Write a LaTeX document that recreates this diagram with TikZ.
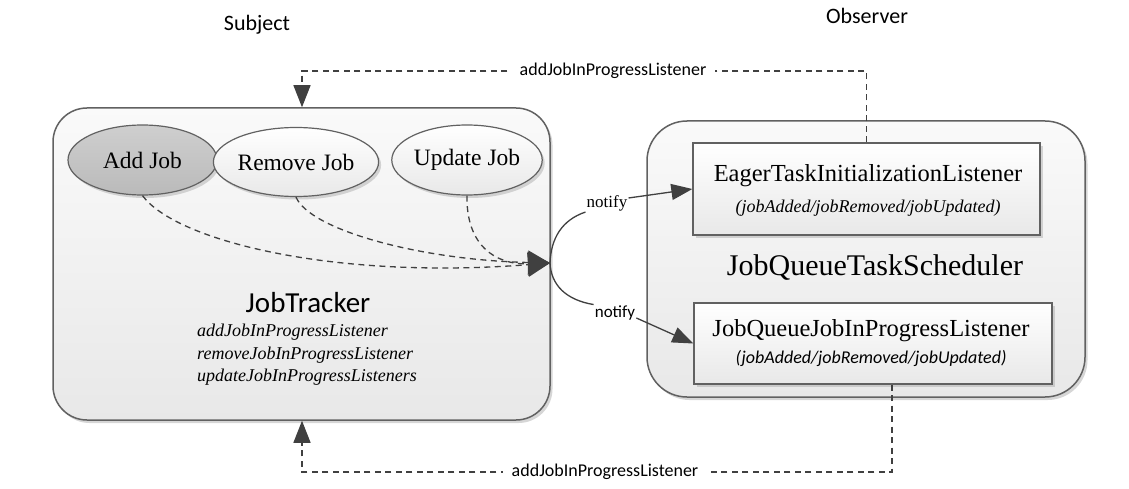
\documentclass[tikz,border=0pt]{standalone}
\usepackage{fontspec}
\setmainfont{Liberation Serif}
\newfontfamily\calfont{Carlito}
\usetikzlibrary{arrows.meta,shadows,shapes.geometric}
\begin{document}
\begin{tikzpicture}[x=1pt,y=-1pt,
  shad/.style={drop shadow={shadow xshift=2.5pt,shadow yshift=-3pt,fill=black!35,opacity=.45}},
  bigbox/.style={draw=black!62,line width=1.5pt,rounded corners=#1,top color=black!2,bottom color=black!9,shad,inner sep=0pt},
  ellip/.style={ellipse,draw=black!62,line width=1.2pt,inner sep=0pt,minimum width=149pt,minimum height=70pt,
     font=\fontsize{23.5}{28}\selectfont,top color=white,bottom color=black!9,shad},
  listbox/.style={draw=black!62,line width=1.3pt,top color=white,bottom color=black!9,shad,inner sep=0pt},
  conn/.style={draw=black!75,line width=1.3pt},
  dconn/.style={conn,dash pattern=on 6pt off 4.5pt},
  bigtip/.style={-{Triangle[length=22pt,width=24pt]}},
  midtip/.style={-{Triangle[length=21pt,width=16pt]}},
  boxtip/.style={-{Triangle[length=22pt,width=17pt]}},
  lbl/.style={fill=white,inner xsep=9pt,inner ysep=2pt,font=\calfont\fontsize{18}{21}\selectfont},
  ttl/.style={font=\fontsize{24.5}{28}\selectfont,inner sep=0pt},
  sub/.style={font=\itshape\fontsize{18}{21}\selectfont,inner sep=0pt}
]
\useasboundingbox (0,0) rectangle (1129,489);
\fill[white] (0,0) rectangle (1129,489);

% headers
\node[font=\calfont\fontsize{22}{26}\selectfont] (subj) at (257,25) {Subject};
\node[font=\calfont\fontsize{22}{26}\selectfont] (obs) at (867,16) {Observer};

% containers
\node[bigbox=34,minimum width=497pt,minimum height=312pt] (tracker) at (301.5,264) {};
\node[bigbox=40,minimum width=438pt,minimum height=276pt] (sched) at (866,259) {};

% ellipses
\node[ellip,top color=black!19,bottom color=black!27] (add) at (142.5,160) {Add Job};
\node[ellip,minimum width=148pt,minimum height=69pt] (rem) at (296,162) {Remove Job};
\node[ellip] (upd) at (467,160) {Update Job};

% JobTracker texts
\node[font=\calfont\fontsize{29}{34}\selectfont,inner sep=0pt] (jt) at (308,303) {JobTracker};
\node[anchor=west,align=left,inner sep=0pt,font=\itshape\fontsize{18}{22.5}\selectfont] (methods) at (197,355)
  {addJobInProgressListener\\removeJobInProgressListener\\updateJobInProgressListeners};

% listener boxes
\node[listbox,minimum width=347pt,minimum height=92pt] (eager) at (866.5,189) {};
\node[ttl] (eagert) at (868,176) {EagerTaskInitializationListener};
\node[sub] (eagers) at (868,208) {(jobAdded/jobRemoved/jobUpdated)};

\node[font=\fontsize{30}{34}\selectfont,inner sep=0pt] (jqts) at (875,268) {JobQueueTaskScheduler};

\node[listbox,minimum width=358pt,minimum height=81pt] (jq) at (873,343.5) {};
\node[ttl] (jqt) at (871,331) {JobQueueJobInProgressListener};
\node[sub,font=\calfont\itshape\fontsize{18}{21}\selectfont] (jqs) at (871,358) {(jobAdded/jobRemoved/jobUpdated)};

% junction
\coordinate (J) at (550,263);

% dashed curves into junction
\draw[dconn,bigtip] (add.south) .. controls (175,240) and (330,280) .. (J);
\draw[dconn,bigtip] (rem.south) .. controls (310,230) and (420,260) .. (J);
\draw[dconn,bigtip] (upd.south) .. controls (466,245) and (495,265) .. (J);

% notify connectors
\node[inner sep=1pt,font=\fontsize{17}{20}\selectfont] (n1) at (607,203) {notify};
\node[inner sep=1pt,font=\calfont\fontsize{17}{20}\selectfont] (n2) at (615,313) {notify};
\draw[conn] (J) .. controls (551,238) and (562,220) .. (n1.south west);
\draw[conn,midtip] ([yshift=5pt]n1.east) -- (eager.west);
\draw[conn] (J) .. controls (551,285) and (566,300) .. (n2.north west);
\draw[conn,midtip] ([yshift=-5pt]n2.east) -- (jq.west);

% top registration connector
\coordinate (tr) at (866.5,71);
\coordinate (tl) at (302,71);
\draw[dconn,boxtip] (eager.north) -- (tr) -- (tl) -- (tl |- tracker.north);
\node[lbl] (toplbl) at (613,71) {addJobInProgressListener};

% bottom registration connector
\coordinate (br) at (892,472);
\coordinate (bl) at (302,472);
\draw[dconn,boxtip] (br |- jq.south) -- (br) -- (bl) -- (bl |- tracker.south);
\node[lbl] (botlbl) at (605,472) {addJobInProgressListener};
\end{tikzpicture}
\end{document}
